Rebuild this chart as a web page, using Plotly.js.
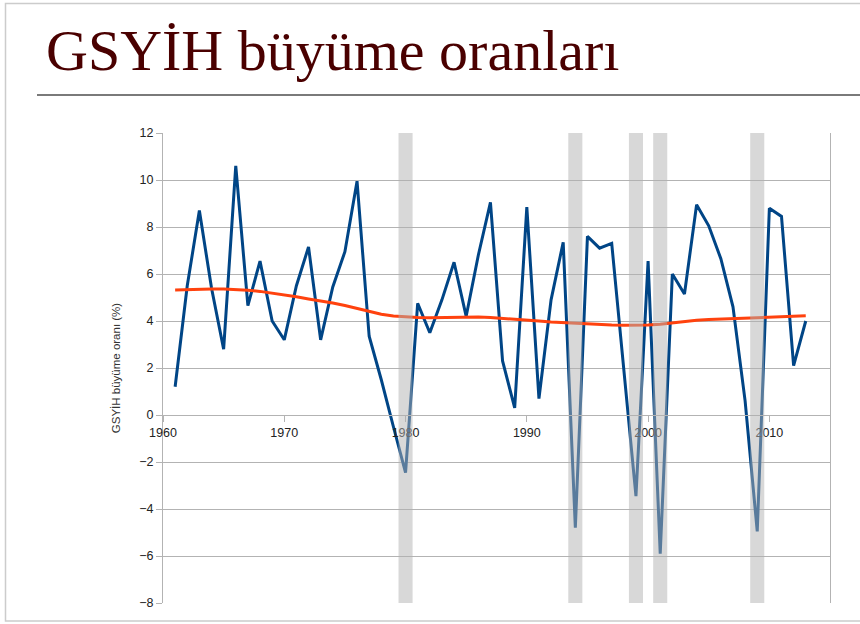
<!DOCTYPE html>
<html>
<head>
<meta charset="utf-8">
<script src="https://cdn.plot.ly/plotly-3.0.1.min.js"></script>
<style>
  html, body { margin: 0; padding: 0; background: #ffffff; }
  #chart { width: 860px; height: 624px; }
</style>
</head>
<body>
<div id="chart"></div>
<script>
// ---- data ----
const years = [1961,1962,1963,1964,1965,1966,1967,1968,1969,1970,
               1971,1972,1973,1974,1975,1976,1977,1978,1979,1980,
               1981,1982,1983,1984,1985,1986,1987,1988,1989,1990,
               1991,1992,1993,1994,1995,1996,1997,1998,1999,2000,
               2001,2002,2003,2004,2005,2006,2007,2008,2009,2010,
               2011,2012,2013];
const growth = [1.2,5.5,8.7,5.4,2.8,10.6,4.65,6.55,4.0,3.2,
                5.5,7.15,3.2,5.45,6.95,9.95,3.35,1.5,-0.5,-2.45,
                4.75,3.5,4.9,6.5,4.2,6.8,9.05,2.3,0.3,8.85,
                0.7,4.9,7.35,-4.8,7.6,7.1,7.3,2.0,-3.45,6.55,
                -5.9,6.0,5.15,8.95,8.05,6.65,4.6,0.6,-4.95,8.8,
                8.45,2.1,4.0];
const trend = [5.32,5.34,5.35,5.36,5.36,5.35,5.31,5.26,5.19,5.11,
               5.03,4.94,4.86,4.77,4.66,4.54,4.41,4.29,4.21,4.17,
               4.15,4.14,4.15,4.16,4.17,4.17,4.15,4.12,4.08,4.04,
               4.00,3.96,3.93,3.90,3.87,3.85,3.83,3.82,3.82,3.83,
               3.86,3.92,3.98,4.03,4.06,4.08,4.10,4.11,4.13,4.15,
               4.17,4.20,4.22];
const recessionYears = [1980, 1994, 1999, 2001, 2009];
const xTickVals = [1960, 1970, 1980, 1990, 2000, 2010];
const xTickText = ['1960', '1970', '1980', '1990', '2000', '2010'];
const titleText = 'GSYİH büyüme oranları';
const yTitleText = 'GSYİH büyüme oranı (%)';

// ---- layout geometry (pixels) ----
const W = 860, H = 624;
const M = { l: 163, r: 30, t: 133, b: 21 };
const pw = W - M.l - M.r, ph = H - M.t - M.b;
const px = x => (x - M.l) / pw;          // pixel x -> paper
const py = y => (H - M.b - y) / ph;      // pixel y -> paper

const bandHalf = 0.58;
const shapes = recessionYears.map(yr => ({
  type: 'rect', xref: 'x', yref: 'paper',
  x0: yr - bandHalf, x1: yr + bandHalf, y0: 0, y1: 1,
  fillcolor: 'rgba(178,178,178,0.5)', line: { width: 0 }, layer: 'above'
}));
// title rule
shapes.push({ type: 'line', xref: 'paper', yref: 'paper',
  x0: px(37), x1: px(862), y0: py(95), y1: py(95),
  line: { color: '#7a7a7a', width: 2 } });
// slide frame
shapes.push({ type: 'rect', xref: 'paper', yref: 'paper',
  x0: px(5.5), x1: px(880), y0: py(3.5), y1: py(621),
  line: { color: '#cccccc', width: 1.5 }, fillcolor: 'rgba(0,0,0,0)' });

const traces = [
  { x: years, y: growth, type: 'scatter', mode: 'lines',
    line: { color: '#004586', width: 3 }, hoverinfo: 'skip' },
  { x: years, y: trend, type: 'scatter', mode: 'lines',
    line: { color: '#ff420e', width: 3 }, hoverinfo: 'skip' }
];

const layout = {
  width: W, height: H,
  margin: M,
  paper_bgcolor: '#ffffff', plot_bgcolor: '#ffffff',
  showlegend: false,
  font: { family: 'Liberation Sans, Arial, sans-serif', color: '#222222', size: 12 },
  title: {
    text: titleText,
    font: { family: 'Liberation Serif, Times New Roman, serif', size: 58, color: '#4a0000' },
    xref: 'container', x: 46 / W, xanchor: 'left',
    yref: 'container', y: 1 - 50 / H, yanchor: 'middle'
  },
  xaxis: {
    range: [1960, 2015],
    anchor: 'free', position: 0.4,
    tickvals: xTickVals, ticktext: xTickText,
    ticks: 'outside', ticklen: 6, tickcolor: '#b3b3b3', tickwidth: 1,
    showline: true, linecolor: '#b3b3b3', linewidth: 1,
    showgrid: false, zeroline: false, automargin: false,
    tickfont: { size: 12.5, color: '#222222' }
  },
  yaxis: {
    range: [-8, 12], dtick: 2, tick0: 0,
    ticks: 'outside', ticklen: 6, tickcolor: '#b3b3b3', tickwidth: 1,
    showline: true, mirror: true, linecolor: '#b3b3b3', linewidth: 1,
    showgrid: true, gridcolor: '#b3b3b3', gridwidth: 1,
    zeroline: false, automargin: false,
    tickfont: { size: 12.5, color: '#222222' },
    title: { text: yTitleText, font: { size: 11.5, color: '#333333' }, standoff: 16 }
  },
  shapes: shapes
};

Plotly.newPlot('chart', traces, layout, { staticPlot: true, displayModeBar: false });
</script>
</body>
</html>
